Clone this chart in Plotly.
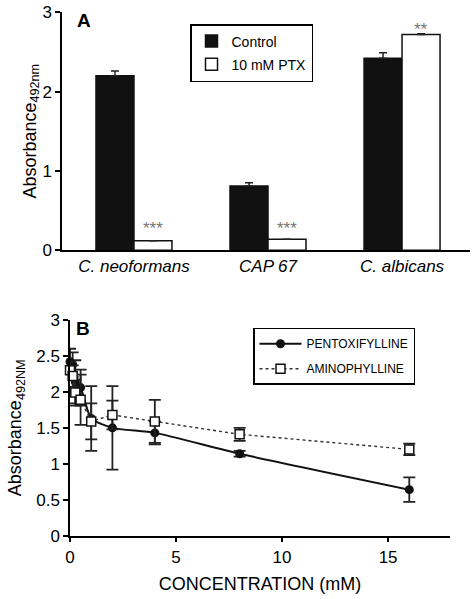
import plotly.graph_objects as go

# ---------------- Panel A data ----------------
categories = ["C. neoformans", "CAP 67", "C. albicans"]
control = [2.20, 0.81, 2.42]
control_err = [0.06, 0.04, 0.07]
ptx = [0.12, 0.14, 2.72]
ptx_err = [0.0, 0.0, 0.01]
signif = ["***", "***", "**"]
signif_y = [0.27, 0.27, 2.785]
a_yticks = [0, 1, 2, 3]

# ---------------- Panel B data ----------------
conc = [0, 0.125, 0.25, 0.5, 1, 2, 4, 8, 16]
pentox = [2.42, 2.38, 2.14, 2.06, 1.63, 1.50, 1.43, 1.14, 0.64]
pentox_err = [0.18, 0.17, 0.30, 0.25, 0.45, 0.58, 0.16, 0.04, 0.17]
amino = [2.30, 2.22, 1.99, 1.89, 1.59, 1.68, 1.59, 1.41, 1.20]
amino_err = [0.12, 0.15, 0.18, 0.35, 0.25, 0.20, 0.30, 0.09, 0.08]
b_yticks = [0, 0.5, 1, 1.5, 2, 2.5, 3]
b_ytext = ["0", "0.5", "1", "1.5", "2", "2.5", "3"]
b_xticks = [0, 5, 10, 15]

FONT = "Liberation Sans, Arial, sans-serif"
W, H = 474, 599

fig = go.Figure()

# Panel A bars
fig.add_trace(go.Bar(
    x=categories, y=control, name="Control",
    marker=dict(color="#111111", line=dict(color="#111111", width=1.5)),
    error_y=dict(type="data", array=control_err, arrayminus=[0] * 3,
                 symmetric=False, color="#222", thickness=1.5, width=4),
    xaxis="x", yaxis="y", legend="legend", legendgroup="a1",
))
fig.add_trace(go.Bar(
    x=categories, y=ptx, name="10 mM PTX",
    marker=dict(color="white", line=dict(color="#111111", width=1.5)),
    error_y=dict(type="data", array=ptx_err, arrayminus=[0] * 3,
                 symmetric=False, color="#222", thickness=1.5, width=4),
    xaxis="x", yaxis="y", legend="legend", legendgroup="a2",
))

# Panel B lines
fig.add_trace(go.Scatter(
    x=conc, y=pentox, name="PENTOXIFYLLINE", mode="lines+markers",
    line=dict(color="#111111", width=2, shape="spline", smoothing=0.6),
    marker=dict(symbol="circle", size=9, color="#111111"),
    error_y=dict(type="data", array=pentox_err, color="#222", thickness=1.8, width=6),
    xaxis="x2", yaxis="y2", legend="legend2", legendgroup="b1", cliponaxis=False,
))
fig.add_trace(go.Scatter(
    x=conc, y=amino, name="AMINOPHYLLINE", mode="lines+markers",
    line=dict(color="#333333", width=1.4, dash="dot"),
    marker=dict(symbol="square", size=9, color="white",
                line=dict(color="#111111", width=1.5)),
    error_y=dict(type="data", array=amino_err, color="#222", thickness=1.8, width=6),
    xaxis="x2", yaxis="y2", legend="legend2", legendgroup="b2", cliponaxis=False,
))

annotations = []
for i, (cat, s, yy) in enumerate(zip(categories, signif, signif_y)):
    annotations.append(dict(
        x=i, y=yy, xref="x", yref="y", text=s, showarrow=False,
        xanchor="center", yanchor="middle",
        xshift=19, font=dict(size=17, color="#777777", family=FONT),
    ))
annotations.append(dict(x=84 / W, y=1 - 21 / H, xref="paper", yref="paper",
                        xanchor="center", yanchor="middle",
                        text="<b>A</b>", showarrow=False,
                        font=dict(size=19, color="black", family=FONT)))
annotations.append(dict(x=83 / W, y=1 - 328 / H, xref="paper", yref="paper",
                        xanchor="center", yanchor="middle",
                        text="<b>B</b>", showarrow=False,
                        font=dict(size=19, color="black", family=FONT)))

axis_common = dict(showline=True, linecolor="black", linewidth=1.5,
                   showgrid=False, zeroline=False, automargin=False,
                   tickfont=dict(size=17, color="black", family=FONT))

fig.update_layout(
    width=W, height=H, autosize=False,
    margin=dict(l=0, r=0, t=0, b=0),
    paper_bgcolor="white", plot_bgcolor="white",
    font=dict(family=FONT, color="black"),
    barmode="group", bargap=0.433, bargroupgap=0,
    showlegend=True,
    xaxis=dict(domain=[62 / W, 470 / W], anchor="y", type="category",
               categoryorder="array", categoryarray=categories,
               range=[-0.537, 2.507], ticks="",
               **{**axis_common,
                  "tickfont": dict(size=17, color="black", family=FONT, style="italic")}),
    yaxis=dict(domain=[1 - 250.3 / H, 1 - 12.3 / H], anchor="x",
               range=[0, 3], tickvals=a_yticks, ticks="outside", ticklen=5,
               tickwidth=1.5, tickcolor="black",
               title=dict(text="Absorbance<sub>492nm</sub>",
                          font=dict(size=18, family=FONT), standoff=0),
               **axis_common),
    xaxis2=dict(domain=[70 / W, 450 / W], anchor="y2",
                range=[0, 17.92], tickvals=b_xticks, ticks="outside", ticklen=5,
                tickwidth=1.5, tickcolor="black",
                title=dict(text="CONCENTRATION (mM)",
                           font=dict(size=18, family=FONT), standoff=12),
                **axis_common),
    yaxis2=dict(domain=[1 - 535.7 / H, 1 - 320 / H], anchor="x2",
                range=[0, 3], tickvals=b_yticks, ticktext=b_ytext,
                ticks="outside", ticklen=5, tickwidth=1.5, tickcolor="black",
                title=dict(text="Absorbance<sub>492NM</sub>",
                           font=dict(size=18, family=FONT), standoff=10),
                **axis_common),
    legend=dict(x=190 / W, y=1 - 24 / H, xanchor="left", yanchor="top",
                bgcolor="white", bordercolor="black", borderwidth=1.5,
                font=dict(size=14, family=FONT, color="black"),
                tracegroupgap=2, traceorder="grouped"),
    legend2=dict(x=253 / W, y=1 - 327.7 / H, xanchor="left", yanchor="top",
                 bgcolor="white", bordercolor="black", borderwidth=1.5,
                 font=dict(size=12, family=FONT, color="black"),
                 tracegroupgap=6, traceorder="grouped", itemwidth=42),
    annotations=annotations,
)

fig.write_html("out.html", config={"displayModeBar": False},
               post_script="document.body.style.margin='0';document.body.style.overflow='hidden';")
